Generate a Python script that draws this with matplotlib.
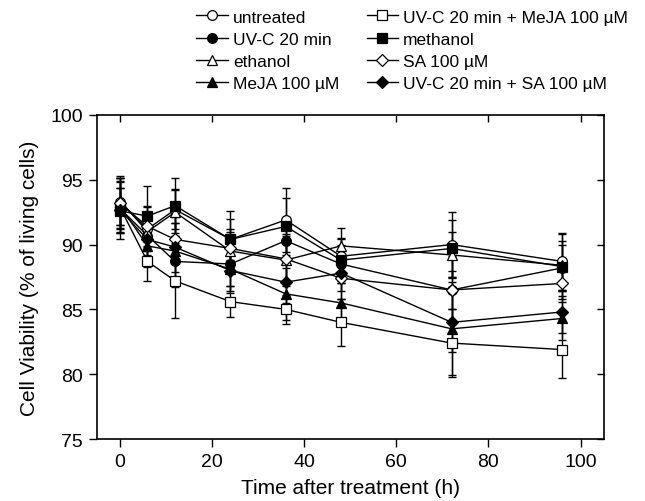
import matplotlib
matplotlib.use("Agg")
import matplotlib.pyplot as plt
import numpy as np

plt.rcParams["font.family"] = ["Liberation Sans", "DejaVu Sans"]

# sampling times (h)
hours = [0, 6, 12, 24, 36, 48, 72, 96]

labels = [
    "untreated",
    "UV-C 20 min",
    "ethanol",
    "MeJA 100 µM",
    "UV-C 20 min + MeJA 100 µM",
    "methanol",
    "SA 100 µM",
    "UV-C 20 min + SA 100 µM",
]

# mean viability (% living cells)
untreated = [93.3, 91.2, 92.7, 90.4, 91.9, 89.1, 90.0, 88.7]
uvc = [92.8, 90.7, 88.7, 88.5, 90.3, 88.5, 86.5, 88.2]
ethanol = [93.4, 91.0, 92.5, 89.5, 88.8, 89.9, 89.2, 88.4]
meja = [93.0, 89.9, 89.5, 88.1, 86.2, 85.5, 83.5, 84.3]
uvc_meja = [92.9, 88.7, 87.2, 85.6, 85.0, 84.0, 82.4, 81.9]
methanol = [92.6, 92.2, 93.0, 90.4, 91.4, 88.8, 89.7, 88.3]
sa = [93.2, 91.4, 90.4, 89.7, 88.9, 87.4, 86.5, 87.0]
uvc_sa = [92.7, 90.4, 89.8, 88.0, 87.1, 87.8, 84.0, 84.8]

# standard deviations
untreated_sd = [1.8, 1.7, 1.5, 1.6, 2.5, 1.4, 2.5, 2.2]
uvc_sd = [1.6, 1.5, 2.0, 1.7, 1.4, 1.5, 2.6, 1.8]
ethanol_sd = [1.9, 1.4, 1.8, 1.5, 2.0, 1.4, 1.8, 1.9]
meja_sd = [2.1, 1.6, 2.2, 1.8, 2.0, 1.5, 3.6, 1.7]
uvc_meja_sd = [2.0, 1.5, 2.9, 1.2, 1.1, 1.8, 2.6, 2.2]
methanol_sd = [2.2, 2.3, 2.1, 2.2, 2.2, 1.6, 2.2, 2.5]
sa_sd = [1.9, 1.6, 1.7, 1.5, 1.8, 1.6, 1.5, 1.4]
uvc_sa_sd = [1.7, 1.5, 1.9, 1.6, 1.6, 1.4, 2.3, 1.6]

means = [untreated, uvc, ethanol, meja, uvc_meja, methanol, sa, uvc_sa]
sds = [untreated_sd, uvc_sd, ethanol_sd, meja_sd, uvc_meja_sd, methanol_sd, sa_sd, uvc_sa_sd]
markers = ["o", "o", "^", "^", "s", "s", "D", "D"]
faces = ["white", "black", "white", "black", "white", "black", "white", "black"]
sizes = [7, 7, 7.5, 7.5, 6.5, 6.5, 6.5, 6.5]

fig = plt.figure(figsize=(6.45, 5.02), dpi=100)
ax = fig.add_axes([0.150, 0.1235, 0.786, 0.6455])

handles = []
for y, e, m, fc, ms, lab in zip(means, sds, markers, faces, sizes, labels):
    ax.errorbar(hours, y, yerr=e, fmt="none", ecolor="black", elinewidth=1.0,
                capsize=3, capthick=1.0, zorder=2)
    h, = ax.plot(hours, y, color="black", lw=1.0, marker=m, ms=ms,
                 markerfacecolor=fc, markeredgecolor="black", markeredgewidth=0.9,
                 label=lab, zorder=3)
    handles.append(h)

ax.set_xlim(-5, 105)
ax.set_ylim(75, 100)
ax.set_xticks(np.arange(0, 101, 20))
ax.set_yticks(np.arange(75, 101, 5))
ax.tick_params(axis="both", which="major", direction="out", length=6, width=1,
               labelsize=14, pad=4)

# mirrored inward ticks on top and right
axt = ax.secondary_xaxis("top")
axt.set_xticks(np.arange(0, 101, 20))
axt.tick_params(direction="in", length=5, width=1, labeltop=False)
axr = ax.secondary_yaxis("right")
axr.set_yticks(np.arange(75, 101, 5))
axr.tick_params(direction="in", length=5, width=1, labelright=False)
for s in list(ax.spines.values()):
    s.set_linewidth(1.2)
for a in (axt, axr):
    for s in a.spines.values():
        s.set_visible(False)

ax.set_xlabel("Time after treatment (h)", fontsize=15, labelpad=6)
ax.set_ylabel("Cell Viability (% of living cells)", fontsize=15, labelpad=8)

fig.legend(handles=handles, loc="upper right", bbox_to_anchor=(0.99, 1.0),
           ncol=2, frameon=False, fontsize=12.5, handlelength=1.8,
           handletextpad=0.3, columnspacing=1.6, labelspacing=0.4,
           borderaxespad=0.2)

fig.savefig("out.png", dpi=100)
